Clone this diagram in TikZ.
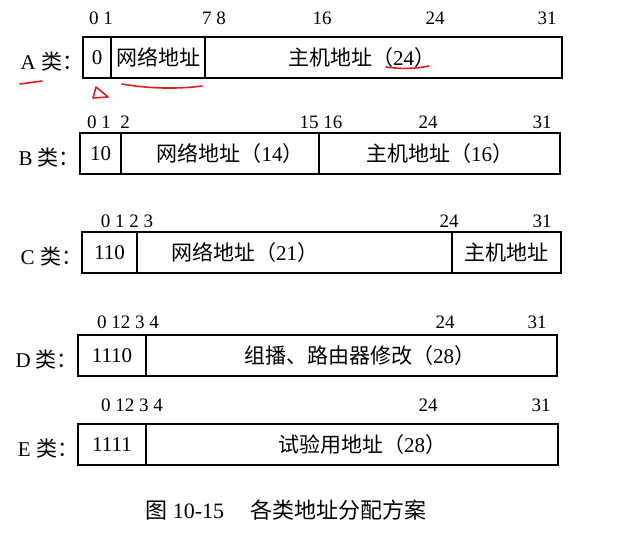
\documentclass[tikz,border=0pt]{standalone}
\usepackage{fontspec}
\setmainfont{Liberation Serif}
\newfontfamily\cjk{Noto Sans CJK SC}
\usepackage{xcolor}
\usepackage{tikz}
\usetikzlibrary{positioning}

\newcommand{\zh}[1]{{\cjk #1}}
\definecolor{pen}{RGB}{222,32,30}

\begin{document}
\begin{tikzpicture}[
  x=1pt, y=-1pt,
  font=\fontsize{21}{23}\selectfont,
  field/.style={draw, line width=1.1pt, inner sep=0pt, outer sep=0pt,
                minimum height=41pt},
  bits/.style={font=\fontsize{19}{21}\selectfont, inner sep=0pt},
  rowlbl/.style={inner sep=0pt, outer sep=0pt, yshift=-4pt},
  redpen/.style={draw=pen, line width=1.6pt, line cap=round, line join=round},
]
\useasboundingbox (0,0) rectangle (624,540);
% class A
\node[field, minimum width=28pt, anchor=north west] (a0) at (83,37) {0};
\node[field, minimum width=94pt, right=0pt of a0] (anet) {\zh{网络地址}};
\node[field, minimum width=357pt, right=0pt of anet,
      label={[xshift=-22pt]center:\zh{主机地址（}24\zh{）}}] (ahost) {};
\node[rowlbl, left=0pt of a0] (alab) {A \zh{类：}};
\node[bits] (ab0) at (101,18) {0 1};
\node[bits] (ab7) at (214,18) {7 8};
\node[bits] (ab16) at (322,18) {16};
\node[bits] (ab24) at (435,18) {24};
\node[bits] (ab31) at (547,18) {31};
% class B
\node[field, minimum width=41pt, anchor=north west] (b0) at (80,133) {10};
\node[field, minimum width=198pt, right=0pt of b0,
      label={[xshift=10pt]center:\zh{网络地址（}14\zh{）}}] (bnet) {};
\node[field, minimum width=241pt, right=0pt of bnet] (bhost)
  {\zh{主机地址（}16\zh{）}};
\node[rowlbl, left=0pt of b0] (blab) {B \zh{类：}};
\node[bits] (bb0) at (99,122) {0 1};
\node[bits] (bb2) at (125,122) {2};
\node[bits] (bb15) at (321,122) {15 16};
\node[bits] (bb24) at (428,122) {24};
\node[bits] (bb31) at (542,122) {31};
% class C
\node[field, minimum width=55pt, anchor=north west] (c0) at (82,232) {110};
\node[field, minimum width=315pt, right=0pt of c0,
      label={[xshift=-50pt]center:\zh{网络地址（}21\zh{）}}] (cnet) {};
\node[field, minimum width=109pt, right=0pt of cnet] (chost) {\zh{主机地址}};
\node[rowlbl, left=0pt of c0] (clab) {C \zh{类：}};
\node[bits] (cb0) at (127,221) {0 1 2 3};
\node[bits] (cb24) at (449,221) {24};
\node[bits] (cb31) at (542,221) {31};
% class D
\node[field, minimum width=68pt, anchor=north west] (d0) at (78,335) {1110};
\node[field, minimum width=411pt, right=0pt of d0,
      label={[xshift=8pt]center:\zh{组播、路由器修改（}28\zh{）}}] (drest) {};
\node[rowlbl, left=0pt of d0] (dlab) {D \zh{类：}};
\node[bits] (db0) at (128,322) {0 12 3 4};
\node[bits] (db24) at (445,322) {24};
\node[bits] (db31) at (537,322) {31};
% class E
\node[field, minimum width=68pt, anchor=north west] (e0) at (78,424) {1111};
\node[field, minimum width=412pt, right=0pt of e0,
      label={[xshift=10pt]center:\zh{试验用地址（}28\zh{）}}] (erest) {};
\node[rowlbl, left=0pt of e0] (elab) {E \zh{类：}};
\node[bits] (eb0) at (132,405) {0 12 3 4};
\node[bits] (eb24) at (428,405) {24};
\node[bits] (eb31) at (541,405) {31};
% caption
\node[font=\fontsize{22}{24}\selectfont] (cap) at (286,510)
  {\zh{图} 10-15\hspace{1.2em}\zh{各类地址分配方案}};
% red pen marks
\draw[redpen] (20,84) -- (42,81);
\draw[redpen] (96,87) -- (93,98) -- (108,97) -- cycle;
\draw[redpen] (122,84) .. controls (150,89) and (180,89) .. (202,86);
\draw[redpen] (386,67) .. controls (400,69) and (415,69) .. (429,66);
\end{tikzpicture}
\end{document}
